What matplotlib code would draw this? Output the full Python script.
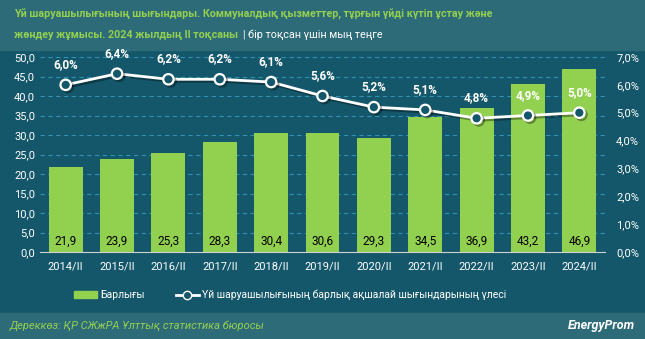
import matplotlib.pyplot as plt
from matplotlib.patches import Rectangle
from matplotlib.lines import Line2D
import matplotlib.patheffects as pe

periods = ["2014/II", "2015/II", "2016/II", "2017/II", "2018/II", "2019/II",
           "2020/II", "2021/II", "2022/II", "2023/II", "2024/II"]
totals = [21.9, 23.9, 25.3, 28.3, 30.4, 30.6, 29.3, 34.5, 36.9, 43.2, 46.9]
shares = [6.0, 6.4, 6.2, 6.2, 6.1, 5.6, 5.2, 5.1, 4.8, 4.9, 5.0]

bg = "#15576a"
head = "#2e6b79"
green = "#92d050"
grid = "#2f8fae"

plt.rcParams['font.family'] = ['Roboto', 'DejaVu Sans']

fig = plt.figure(figsize=(6.45, 3.39), dpi=100)
fig.patch.set_facecolor(bg)
fig.add_artist(Rectangle((0, 1 - 50 / 339), 1, 50 / 339, transform=fig.transFigure,
                         color=head, zorder=0))
fig.add_artist(Rectangle((0, 0), 1, 26 / 339, transform=fig.transFigure,
                         color=head, zorder=0))

ax = fig.add_axes([40 / 645, 87 / 339, 565 / 645, 195 / 339])
ax.set_facecolor(bg)
x = list(range(len(periods)))
bars = ax.bar(x, totals, width=0.66, color=green, zorder=3)
ax.set_ylim(0, 50)
ax.set_xlim(-0.5, len(periods) - 0.5)
ax.set_yticks(range(0, 51, 5))
ax.set_yticklabels([f"{v},0" for v in range(0, 51, 5)])
ax.set_xticks(x)
ax.set_xticklabels(periods)
ax.tick_params(colors="white", labelsize=8, length=0)
ax.tick_params(axis="x", pad=7)
for s in ["top", "right", "left"]:
    ax.spines[s].set_visible(False)
ax.spines["bottom"].set_color("#d0d0d0")
ax.yaxis.grid(True, color=grid, linestyle=(0, (4, 3)), linewidth=0.8, zorder=0)
ax.set_axisbelow(True)
for xi, v in zip(x, totals):
    ax.text(xi, 2.7, f"{v:.1f}".replace(".", ","), ha="center", va="center",
            fontsize=8.5, color="black", zorder=5)

ax2 = ax.twinx()
ax2.set_ylim(0, 7)
ax2.set_yticks(range(0, 8))
ax2.set_yticklabels([f"{v},0%" for v in range(0, 8)])
ax2.tick_params(colors="white", labelsize=8, length=0, pad=8)
for s in ax2.spines.values():
    s.set_visible(False)
shadow = [pe.SimpleLineShadow(offset=(1.5, -1.5), alpha=0.35), pe.Normal()]
ax2.plot(x, shares, color="white", linewidth=2, marker="o", markersize=7.5,
         markerfacecolor=bg, markeredgecolor="white", markeredgewidth=1.6,
         zorder=4, clip_on=False, path_effects=shadow)
for xi, v in zip(x, shares):
    ax2.annotate(f"{v:.1f}%".replace(".", ","), (xi, v), xytext=(0, 10),
                 textcoords="offset points", ha="center", va="bottom",
                 fontsize=8.5, fontweight="bold", color="white",
                 annotation_clip=False)

# title: fit first line to the reference width
t1 = fig.text(14 / 645, 1 - 14 / 339,
              "Үй шаруашылығының шығындары. Коммуналдық қызметтер, тұрғын үйді күтіп ұстау және",
              color=green, fontsize=10, fontweight="bold", va="center")
fig.canvas.draw()
w = t1.get_window_extent().width
size = 10 * 480 / w
t1.set_fontsize(size)
t2 = fig.text(14 / 645, 1 - 35 / 339, "жөндеу жұмысы. 2024 жылдың II тоқсаны",
              color=green, fontsize=size, fontweight="bold", va="center")
fig.canvas.draw()
bb = t2.get_window_extent()
fig.text((bb.x1 + 5) / 645, 1 - 35 / 339, "| бір тоқсан үшін мың теңге",
         color="white", fontsize=size, va="center")

handles = [Rectangle((0, 0), 1, 1, color=green),
           Line2D([], [], color="white", linewidth=2, marker="o", markersize=6,
                  markerfacecolor=bg, markeredgecolor="white")]
fig.legend(handles, ["Барлығы", "Үй шаруашылығының барлық ақшалай шығындарының үлесі"],
           loc="center", bbox_to_anchor=(290 / 645, 1 - 295 / 339), ncol=2, frameon=False,
           fontsize=7.5, labelcolor="white", handlelength=2.2, handleheight=0.6,
           columnspacing=3, handletextpad=0.3)

fig.text(10 / 645, 13 / 339, "Дереккөз: ҚР СЖжРА Ұлттық статистика бюросы",
         color=green, fontsize=8, style="italic", va="center")
fig.text(635 / 645, 13 / 339, "EnergyProm", color="white", fontsize=9,
         fontweight="bold", style="italic", ha="right", va="center")

fig.savefig("out.png", dpi=100, facecolor=fig.get_facecolor())
